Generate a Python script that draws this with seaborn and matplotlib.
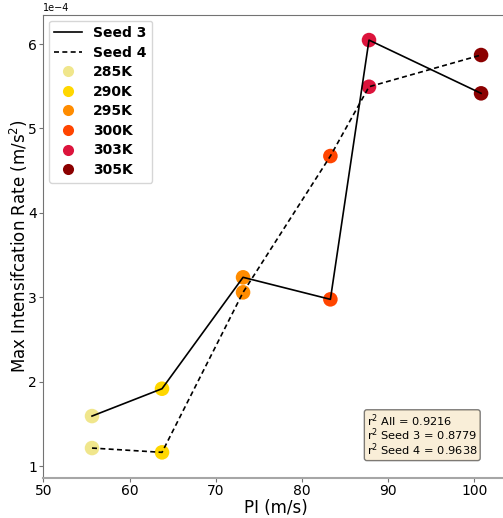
import numpy as np
import pandas as pd
import matplotlib
matplotlib.use("Agg")
import matplotlib.pyplot as plt
import seaborn as sns
from matplotlib.lines import Line2D

# values
temps = ["285K", "290K", "295K", "300K", "303K", "305K"]
colors = ["khaki", "gold", "darkorange", "orangered", "crimson", "darkred"]
pi_seed3 = [55.65, 63.77, 73.17, 83.3, 87.78, 100.78]
rate_seed3 = [1.592, 1.916, 3.236, 2.975, 6.047, 5.416]
pi_seed4 = [55.65, 63.77, 73.17, 83.3, 87.78, 100.78]
rate_seed4 = [1.213, 1.162, 3.058, 4.673, 5.494, 5.870]

df = pd.concat([
    pd.DataFrame({"pi": pi_seed3, "rate": np.array(rate_seed3) * 1e-4,
                  "temp": temps, "seed": "Seed 3"}),
    pd.DataFrame({"pi": pi_seed4, "rate": np.array(rate_seed4) * 1e-4,
                  "temp": temps, "seed": "Seed 4"}),
], ignore_index=True)

plt.rcParams['font.family'] = ['DejaVu Sans']

fig = plt.figure(figsize=(5.03, 5.18), dpi=100)
ax = fig.add_axes([0.0861, 0.0772, 0.9255, 0.8938])

palette = dict(zip(temps, colors))
sns.scatterplot(data=df, x="pi", y="rate", hue="temp", palette=palette,
                s=110, linewidth=0, ax=ax, legend=False, zorder=2)
sns.lineplot(data=df, x="pi", y="rate", style="seed", color="black",
             dashes={"Seed 3": "", "Seed 4": (3, 2)}, lw=1.2,
             sort=False, estimator=None, ax=ax, legend=False, zorder=3)

for side in ["left", "bottom", "top", "right"]:
    ax.spines[side].set_color("0.45")
ax.spines["bottom"].set_color("0.65")
ax.spines["bottom"].set_linewidth(1.5)
ax.tick_params(colors="0.45", labelcolor="black", labelsize=10,
               length=3, pad=1.5)

ax.set_xlim(50, 104)
ax.set_ylim(0.858e-4, 6.344e-4)
ax.set_xlabel("PI (m/s)", fontsize=12, labelpad=0.5)
ax.set_ylabel("Max Intensifcation Rate (m/s$^2$)", fontsize=12, labelpad=-1)
ax.ticklabel_format(axis="y", style="sci", scilimits=(0, 0))
ax.yaxis.get_offset_text().set_fontsize(7)

handles = [Line2D([], [], color="black", lw=1.2, ls="-", label="Seed 3"),
           Line2D([], [], color="black", lw=1.2, ls=(0, (3, 2)), label="Seed 4")]
for t, c in zip(temps, colors):
    handles.append(Line2D([], [], ls="", marker="o", ms=8, mec="none",
                          color=c, label=t))
ax.legend(handles=handles, loc="upper left", prop={"weight": "bold", "size": 10},
          frameon=True, borderaxespad=0.4, labelspacing=0.4)

ax.text(0.695, 0.142,
        "r$^2$ All = 0.9216\nr$^2$ Seed 3 = 0.8779\nr$^2$ Seed 4 = 0.9638",
        transform=ax.transAxes, fontsize=8.2, va="top", ha="left",
        linespacing=0.85,
        bbox=dict(boxstyle="round,pad=0.22", facecolor="wheat", alpha=0.5))

fig.savefig("out.png", dpi=100)
